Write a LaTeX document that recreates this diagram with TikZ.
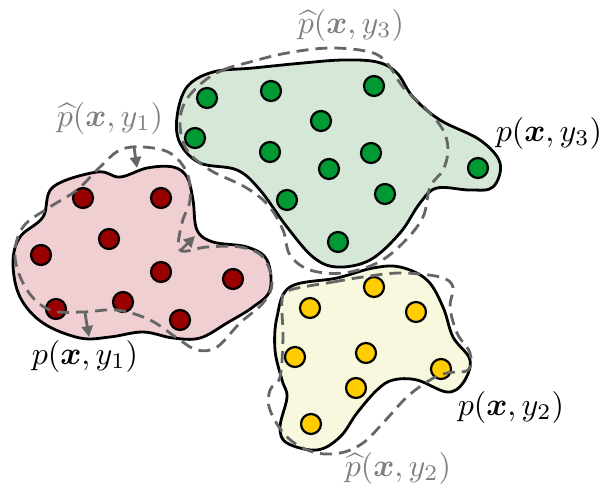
\documentclass[tikz,border=0pt]{standalone}
\usepackage{bm}
\usetikzlibrary{arrows.meta}
\definecolor{redfill}{HTML}{EFCFD1}
\definecolor{greenfill}{HTML}{D5E8D7}
\definecolor{yellowfill}{HTML}{F8F8DE}
\definecolor{reddot}{HTML}{990000}
\definecolor{greendot}{HTML}{009933}
\definecolor{yellowdot}{HTML}{FFCC00}
\definecolor{dashgray}{HTML}{666666}
\definecolor{labgray}{HTML}{808080}
\tikzset{
  blob/.style={draw=black, line width=1.4pt, smooth cycle, tension=0.6},
  est/.style={draw=dashgray, line width=1.4pt, dash pattern=on 6pt off 3.5pt, smooth cycle, tension=0.6},
  pt/.style={circle, draw=black, line width=1.1pt, minimum size=10pt, inner sep=0pt},
  rpt/.style={pt, fill=reddot},
  gpt/.style={pt, fill=greendot},
  ypt/.style={pt, fill=yellowdot},
  mv/.style={draw=dashgray, line width=1.4pt, -{Triangle[length=5.5pt,width=5.5pt]}},
  truelab/.style={scale=1.6, text=black},
  estlab/.style={scale=1.6, text=labgray}
}
\begin{document}
\begin{tikzpicture}[x=0.5pt,y=-0.5pt]
\useasboundingbox (0,0) rectangle (601,488);
% red blob
\path[fill=redfill, blob] plot coordinates {(53,187) (97,172) (120,177) (147,168) (173,167) (187,177) (193,200) (197,230) (213,242) (247,247) (267,260) (270,290) (253,307) (227,323) (200,338) (173,338) (143,332) (110,337) (80,338) (43,323) (20,297) (13,263) (20,237) (43,217)};
% green blob
\path[fill=greenfill, blob] plot coordinates {(177,117) (187,87) (213,72) (253,68) (303,63) (343,60) (377,62) (397,73) (413,97) (440,120) (480,140) (500,163) (493,187) (470,190) (437,188) (420,203) (400,233) (370,260) (337,267) (313,257) (287,227) (260,190) (237,170) (200,163) (180,143)};
% yellow blob
\path[fill=yellowfill, blob] plot coordinates {(290,287) (337,278) (373,268) (400,267) (427,280) (443,307) (453,337) (470,360) (463,383) (447,392) (417,380) (393,380) (377,390) (357,413) (340,437) (317,450) (287,443) (280,427) (287,397) (282,380) (275,350) (277,317)};
% dots
\foreach \n/\x/\y in {1/83/198, 2/161/198, 3/109/239, 4/41/255, 5/161/272, 6/233/279, 7/56/309, 8/123/302, 9/180/320}
  \node[rpt] (r\n) at (\x,\y) {};
\foreach \n/\x/\y in {1/207/98, 2/271/91, 3/374/86, 4/321/121, 5/195/138, 6/270/152, 7/371/153, 8/329/169, 9/478/168, 10/287/200, 11/385/194, 12/338/242}
  \node[gpt] (g\n) at (\x,\y) {};
\foreach \n/\x/\y in {1/374/287, 2/310/308, 3/416/312, 4/295/357, 5/366/353, 6/441/369, 7/356/388, 8/311/424}
  \node[ypt] (y\n) at (\x,\y) {};
% dashed estimates
\path[est] plot coordinates {(120,150) (143,147) (170,153) (187,173) (190,200) (182,223) (180,250) (207,247) (240,247) (263,257) (272,283) (263,303) (240,323) (217,347) (197,350) (177,338) (150,320) (117,310) (83,312) (50,310) (27,290) (15,257) (23,227) (50,207) (77,190) (100,167)};
\path[est] plot coordinates {(203,82) (223,70) (250,62) (287,53) (330,48) (370,52) (387,63) (403,87) (427,110) (443,130) (448,150) (443,170) (430,187) (423,217) (403,243) (377,263) (343,273) (310,270) (290,255) (283,230) (268,205) (245,187) (210,170) (187,150) (180,125) (185,102)};
\path[est] plot coordinates {(290,290) (333,282) (363,277) (400,273) (440,277) (453,287) (450,307) (457,333) (470,353) (468,370) (447,373) (430,380) (407,397) (383,423) (363,443) (340,453) (313,452) (287,437) (270,410) (270,390) (280,377) (283,337) (282,300)};
% deformation arrows
\coordinate (a1s) at (134,147); \coordinate (a1e) at (137,168);
\coordinate (a2s) at (180,251); \coordinate (a2e) at (195,236);
\coordinate (a3s) at (85,313); \coordinate (a3e) at (89,337);
\draw[mv] (a1s) -- (a1e);
\draw[mv] (a2s) -- (a2e);
\draw[mv] (a3s) -- (a3e);
% labels
\node[estlab] (l1h) at (110,118) {$\widehat{p}(\bm{x}, y_1)$};
\node[truelab] (l1) at (85,356) {$p(\bm{x}, y_1)$};
\node[estlab] (l3h) at (351,25) {$\widehat{p}(\bm{x}, y_3)$};
\node[truelab] (l3) at (549,133) {$p(\bm{x}, y_3)$};
\node[truelab] (l2) at (511,407) {$p(\bm{x}, y_2)$};
\node[estlab] (l2h) at (398,468) {$\widehat{p}(\bm{x}, y_2)$};
\end{tikzpicture}
\end{document}
